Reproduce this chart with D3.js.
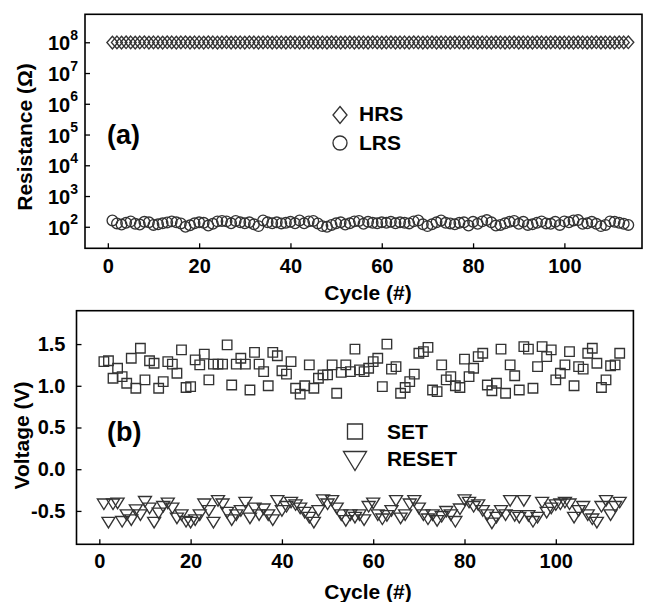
<!DOCTYPE html>
<html lang="en">
<head>
<meta charset="UTF-8">
<title>Resistance and switching voltage vs cycle</title>
<script src="https://d3js.org/d3.v7.min.js"></script>
<style>
  body { margin: 0; background: #fff; }
  svg { display: block; font-family: "Liberation Sans", Arial, sans-serif; font-weight: bold; }
  .frame { fill: none; stroke: #000; stroke-width: 1.6; }
  .mk { fill: none; stroke: #333; stroke-width: 1.35; }
  .axis path.domain { display: none; }
  .axis line { stroke: #000; stroke-width: 1.3; }
  .axis text { font-family: "Liberation Sans", Arial, sans-serif; font-weight: bold; font-size: 20px; fill: #000; }
</style>
</head>
<body>
<script>
// cycle numbers 1..114
const cycles = d3.range(1, 115);

const hrs = [
  9.8e7, 9.9e7, 9.8e7, 1.0e8, 9.9e7, 9.8e7, 9.9e7, 1.0e8, 9.8e7, 9.9e7,
  9.9e7, 9.8e7, 1.0e8, 9.9e7, 9.8e7, 9.9e7, 1.0e8, 9.8e7, 9.9e7, 9.9e7,
  9.8e7, 1.0e8, 9.9e7, 9.8e7, 9.9e7, 1.0e8, 9.8e7, 9.9e7, 9.9e7, 9.8e7,
  1.0e8, 9.9e7, 9.8e7, 9.9e7, 1.0e8, 9.8e7, 9.9e7, 9.9e7, 9.8e7, 1.0e8,
  9.9e7, 9.8e7, 9.9e7, 1.0e8, 9.8e7, 9.9e7, 9.9e7, 9.8e7, 1.0e8, 9.9e7,
  9.8e7, 9.9e7, 1.0e8, 9.8e7, 9.9e7, 9.9e7, 9.8e7, 1.0e8, 9.9e7, 9.8e7,
  9.9e7, 1.0e8, 9.8e7, 9.9e7, 9.9e7, 9.8e7, 1.0e8, 9.9e7, 9.8e7, 9.9e7,
  1.0e8, 9.8e7, 9.9e7, 9.9e7, 9.8e7, 1.0e8, 9.9e7, 9.8e7, 9.9e7, 1.0e8,
  9.8e7, 9.9e7, 9.9e7, 9.8e7, 1.0e8, 9.9e7, 9.8e7, 9.9e7, 1.0e8, 9.8e7,
  9.9e7, 9.9e7, 9.8e7, 1.0e8, 9.9e7, 9.8e7, 9.9e7, 1.0e8, 9.8e7, 9.9e7,
  9.9e7, 9.8e7, 1.0e8, 9.9e7, 9.8e7, 9.9e7, 1.0e8, 9.8e7, 9.9e7, 9.9e7,
  9.8e7, 1.0e8, 9.9e7, 1.0e8
];

const lrs = [
  160, 128, 118, 135, 150, 125, 118, 145, 140, 115,
  120, 130, 138, 150, 140, 128, 100, 112, 130, 140,
  135, 110, 125, 150, 155, 150, 130, 155, 140, 130,
  140, 120, 105, 160, 140, 130, 140, 128, 135, 145,
  130, 160, 130, 150, 155, 128, 105, 100, 115, 130,
  140, 118, 130, 150, 155, 125, 145, 135, 130, 140,
  135, 145, 130, 140, 135, 128, 150, 160, 120, 105,
  120, 140, 160, 135, 128, 120, 135, 140, 110, 145,
  125, 150, 165, 140, 110, 115, 130, 145, 155, 125,
  145, 115, 120, 135, 150, 128, 125, 145, 115, 150,
  140, 160, 165, 125, 130, 145, 125, 105, 115, 150,
  145, 135, 125, 115
];

const setV = [
  1.29, 1.30, 1.09, 1.21, 1.11, 1.03, 1.33, 0.97, 1.45, 1.07,
  1.30, 1.27, 0.97, 1.05, 1.29, 1.26, 1.15, 1.43, 0.98, 0.99,
  1.31, 1.25, 1.38, 1.07, 1.26, 1.26, 1.26, 1.49, 1.01, 1.26,
  1.33, 1.26, 0.95, 1.40, 1.26, 1.17, 1.00, 1.40, 1.36, 1.18,
  1.14, 1.29, 0.97, 0.90, 1.00, 1.25, 0.97, 1.09, 1.13, 1.13,
  1.25, 0.91, 1.16, 1.25, 1.17, 1.44, 1.19, 1.17, 1.21, 1.29,
  1.33, 0.99, 1.50, 1.20, 1.23, 0.91, 0.98, 1.05, 1.14, 1.39,
  1.41, 1.46, 0.95, 0.93, 1.25, 1.07, 1.11, 1.00, 0.98, 1.32,
  1.11, 1.21, 1.35, 1.39, 1.01, 0.94, 1.03, 1.44, 0.91, 1.25,
  1.12, 0.95, 1.47, 1.44, 0.97, 1.23, 1.47, 1.35, 1.43, 1.07,
  1.15, 1.25, 1.41, 1.00, 1.23, 1.20, 1.39, 1.45, 1.27, 0.98,
  1.07, 1.24, 1.25, 1.39
];

const resetV = [
  -0.42, -0.64, -0.42, -0.41, -0.63, -0.55, -0.61, -0.49, -0.55, -0.39,
  -0.47, -0.64, -0.53, -0.45, -0.41, -0.47, -0.59, -0.55, -0.63, -0.64,
  -0.61, -0.55, -0.42, -0.50, -0.64, -0.38, -0.42, -0.52, -0.61, -0.55,
  -0.50, -0.40, -0.59, -0.47, -0.55, -0.48, -0.55, -0.61, -0.38, -0.50,
  -0.45, -0.40, -0.43, -0.47, -0.52, -0.58, -0.64, -0.50, -0.37, -0.42,
  -0.38, -0.47, -0.55, -0.62, -0.55, -0.58, -0.55, -0.61, -0.45, -0.41,
  -0.55, -0.60, -0.56, -0.50, -0.38, -0.59, -0.55, -0.42, -0.38, -0.47,
  -0.55, -0.60, -0.55, -0.62, -0.57, -0.51, -0.55, -0.63, -0.48, -0.37,
  -0.40, -0.45, -0.43, -0.50, -0.55, -0.65, -0.58, -0.50, -0.55, -0.38,
  -0.56, -0.58, -0.38, -0.56, -0.63, -0.58, -0.40, -0.52, -0.47, -0.43,
  -0.42, -0.40, -0.42, -0.58, -0.50, -0.45, -0.55, -0.60, -0.64, -0.45,
  -0.38, -0.55, -0.45, -0.40
];

const xTicks = [0, 20, 40, 60, 80, 100];
const rExponents = [2, 3, 4, 5, 6, 7, 8];
const vTicks = [-0.5, 0, 0.5, 1.0, 1.5];

const W = 648, H = 602;
const svg = d3.select("body").append("svg").attr("width", W).attr("height", H);

// marker shapes
const diamond = (w, h) => `M0,${-h}L${w},0L0,${h}L${-w},0Z`;
const square = s => `M${-s/2},${-s/2}h${s}v${s}h${-s}Z`;
const triDown = (w, h) => `M${-w/2},${-h/2}L${w/2},${-h/2}L0,${h/2}Z`;

// ---------- panel (a) ----------
const x1 = d3.scaleLinear().domain([-5, 117]).range([85, 642]);
const y1 = d3.scaleLog().domain([Math.pow(10, 1.3), Math.pow(10, 8.91)]).range([248.3, 14.3]);

svg.append("g").attr("class", "axis")
  .attr("transform", `translate(0,${y1.range()[0]})`)
  .call(d3.axisBottom(x1).tickValues(xTicks).tickSizeInner(-5).tickSizeOuter(0).tickPadding(11));

svg.append("g").attr("class", "axis")
  .attr("transform", `translate(${x1.range()[0]},0)`)
  .call(d3.axisLeft(y1).tickValues(rExponents.map(e => Math.pow(10, e))).tickSizeInner(-5).tickSizeOuter(0).tickFormat(""));

const powLabels = svg.append("g").selectAll("text").data(rExponents).join("text")
  .attr("x", x1.range()[0] - 7)
  .attr("y", d => y1(Math.pow(10, d)) + 8)
  .attr("text-anchor", "end")
  .attr("font-size", 20);
powLabels.append("tspan").text("10");
powLabels.append("tspan").attr("font-size", 14).attr("dy", -10.5).text(d => d);

svg.append("rect").attr("class", "frame")
  .attr("x", x1.range()[0]).attr("y", y1.range()[1])
  .attr("width", x1.range()[1] - x1.range()[0])
  .attr("height", y1.range()[0] - y1.range()[1]);

svg.append("g").selectAll("path").data(cycles).join("path")
  .attr("class", "mk")
  .attr("d", diamond(5.5, 6.3))
  .attr("transform", (d, i) => `translate(${x1(d)},${y1(hrs[i])})`);

svg.append("g").selectAll("circle").data(cycles).join("circle")
  .attr("class", "mk")
  .attr("r", 5.3)
  .attr("cx", d => x1(d))
  .attr("cy", (d, i) => y1(lrs[i]));

svg.append("text").attr("x", 107).attr("y", 144).attr("font-size", 27).text("(a)");
svg.append("path").attr("class", "mk").attr("stroke-width", 1.5).attr("d", diamond(7, 8.5)).attr("transform", "translate(340,115)");
svg.append("text").attr("x", 359).attr("y", 121).attr("font-size", 21).text("HRS");
svg.append("circle").attr("class", "mk").attr("stroke-width", 1.5).attr("r", 7).attr("cx", 340).attr("cy", 143);
svg.append("text").attr("x", 359).attr("y", 150).attr("font-size", 21).text("LRS");

svg.append("text").attr("font-size", 21).attr("text-anchor", "middle")
  .attr("transform", "translate(32,137) rotate(-90)").text("Resistance (Ω)");
svg.append("text").attr("font-size", 21).attr("text-anchor", "middle")
  .attr("x", 368).attr("y", 300).text("Cycle (#)");

// ---------- panel (b) ----------
const x2 = d3.scaleLinear().domain([-5, 117]).range([76.5, 633.4]);
const y2 = d3.scaleLinear().domain([-0.9, 1.9]).range([544.3, 310.7]);

svg.append("g").attr("class", "axis")
  .attr("transform", `translate(0,${y2.range()[0]})`)
  .call(d3.axisBottom(x2).tickValues(xTicks).tickSizeInner(-5).tickSizeOuter(0).tickPadding(10));

svg.append("g").attr("class", "axis")
  .attr("transform", `translate(${x2.range()[0]},0)`)
  .call(d3.axisLeft(y2).tickValues(vTicks).tickSizeInner(-5).tickSizeOuter(0).tickPadding(11)
    .tickFormat(v => v.toFixed(1)));

svg.append("rect").attr("class", "frame")
  .attr("x", x2.range()[0]).attr("y", y2.range()[1])
  .attr("width", x2.range()[1] - x2.range()[0])
  .attr("height", y2.range()[0] - y2.range()[1]);

svg.append("g").selectAll("path").data(cycles).join("path")
  .attr("class", "mk")
  .attr("d", square(9.5))
  .attr("transform", (d, i) => `translate(${x2(d)},${y2(setV[i])})`);

svg.append("g").selectAll("path").data(cycles).join("path")
  .attr("class", "mk")
  .attr("d", triDown(13, 10.5))
  .attr("transform", (d, i) => `translate(${x2(d)},${y2(resetV[i])})`);

svg.append("text").attr("x", 107).attr("y", 441).attr("font-size", 27).text("(b)");
svg.append("path").attr("class", "mk").attr("stroke-width", 1.5).attr("d", square(15)).attr("transform", "translate(355,431.5)");
svg.append("text").attr("x", 387).attr("y", 439).attr("font-size", 21).text("SET");
svg.append("path").attr("class", "mk").attr("stroke-width", 1.5).attr("d", triDown(23, 19)).attr("transform", "translate(355,461)");
svg.append("text").attr("x", 387).attr("y", 466).attr("font-size", 21).text("RESET");

svg.append("text").attr("font-size", 21).attr("text-anchor", "middle")
  .attr("transform", "translate(29,435.5) rotate(-90)").text("Voltage (V)");
svg.append("text").attr("font-size", 21).attr("text-anchor", "middle")
  .attr("x", 368).attr("y", 599).text("Cycle (#)");
</script>
</body>
</html>
